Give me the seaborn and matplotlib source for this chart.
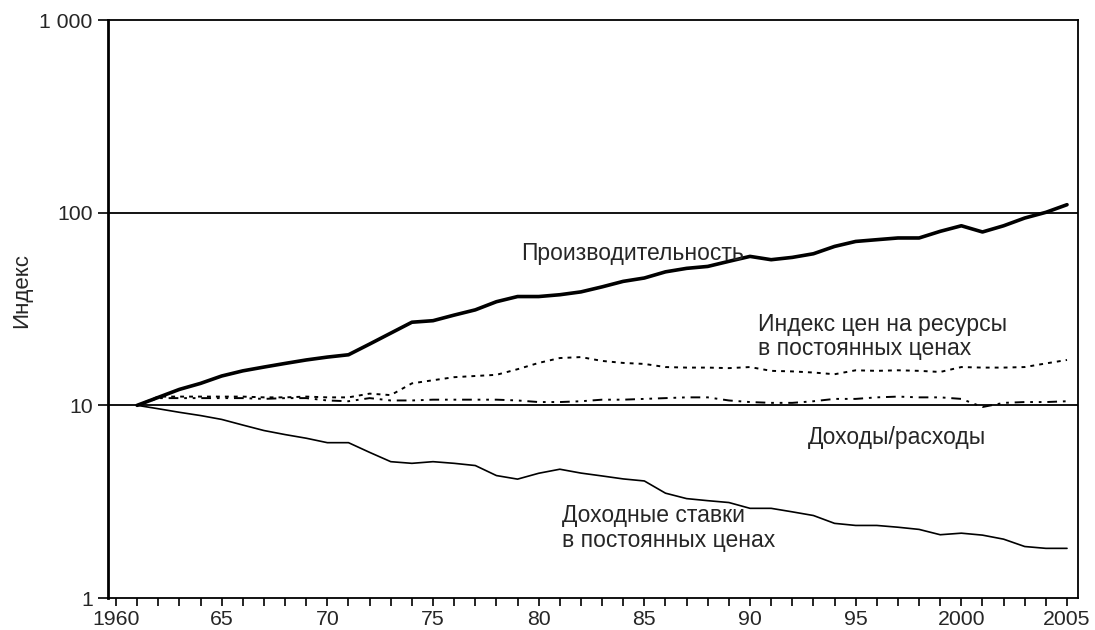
import numpy as np
import pandas as pd
import matplotlib
matplotlib.use("Agg")
import matplotlib.pyplot as plt
import seaborn as sns
from matplotlib.ticker import FixedLocator, NullLocator, NullFormatter

years = list(range(1961, 2006))

productivity = [10, 11.0, 12.1, 13.0, 14.2, 15.1, 15.8, 16.5, 17.2, 17.8,
                18.3, 20.8, 23.7, 27.0, 27.5, 29.4, 31.3, 34.5, 36.7, 36.7,
                37.5, 38.8, 41.2, 44.0, 45.8, 49.3, 51.4, 52.6, 55.9, 59.3,
                57.0, 58.6, 61.2, 66.8, 70.9, 72.4, 73.9, 73.9, 80.0, 85.5,
                79.4, 85.5, 93.8, 100.4, 110.0]

resource_prices = [10, 11.1, 11.1, 11.1, 11.1, 11.1, 11.0, 11.0, 11.1, 11.0,
                   11.0, 11.5, 11.3, 13.0, 13.5, 14.0, 14.2, 14.4, 15.4, 16.6,
                   17.6, 17.8, 17.0, 16.6, 16.4, 15.8, 15.7, 15.7, 15.6, 15.8,
                   15.1, 15.0, 14.8, 14.5, 15.2, 15.1, 15.2, 15.1, 14.9, 15.8,
                   15.7, 15.7, 15.8, 16.5, 17.2]

income_expense = [10, 10.9, 10.9, 10.9, 10.9, 10.9, 10.8, 10.9, 10.9, 10.6,
                  10.5, 10.9, 10.6, 10.6, 10.7, 10.7, 10.7, 10.7, 10.6, 10.4,
                  10.4, 10.5, 10.7, 10.7, 10.8, 10.9, 11.0, 11.0, 10.6, 10.4,
                  10.3, 10.3, 10.5, 10.8, 10.8, 11.0, 11.1, 11.0, 11.0, 10.8,
                  9.8, 10.3, 10.4, 10.4, 10.5]

income_rates = [10, 9.6, 9.2, 8.85, 8.45, 7.9, 7.4, 7.05, 6.75, 6.4,
                6.4, 5.7, 5.1, 5.0, 5.1, 5.0, 4.87, 4.32, 4.14, 4.44,
                4.66, 4.45, 4.3, 4.15, 4.05, 3.5, 3.28, 3.2, 3.13, 2.92,
                2.92, 2.8, 2.68, 2.44, 2.38, 2.38, 2.33, 2.27, 2.13, 2.17,
                2.12, 2.02, 1.85, 1.81, 1.81]

ytick_values = [1, 10, 100, 1000]
ytick_labels = ["1", "10", "100", "1 000"]
xtick_major = [1960, 1965, 1970, 1975, 1980, 1985, 1990, 1995, 2000, 2005]
xtick_labels = ["1960", "65", "70", "75", "80", "85", "90", "95", "2000", "2005"]

sns.set_style("white")
plt.rcParams['font.family'] = ['Liberation Sans', 'DejaVu Sans']

fig = plt.figure(figsize=(10.95, 6.3), dpi=100)
ax = fig.add_axes([108/1095, 1 - 598/630, (1078 - 108)/1095, (598 - 20)/630])

df = pd.DataFrame({"year": years, "prod": productivity, "res": resource_prices,
                   "ratio": income_expense, "rates": income_rates})

sns.lineplot(data=df, x="year", y="prod", ax=ax, color="black", linewidth=2.6)
sns.lineplot(data=df, x="year", y="rates", ax=ax, color="black", linewidth=1.2)
sns.lineplot(data=df, x="year", y="res", ax=ax, color="black", linewidth=1.4)
ax.lines[-1].set_dashes([2.0, 2.6])
sns.lineplot(data=df, x="year", y="ratio", ax=ax, color="black", linewidth=1.4)
ax.lines[-1].set_dashes([5.0, 3.0, 1.4, 3.0, 1.4, 3.0])

ax.set_yscale("log")
ax.set_ylim(1, 1000)
ax.set_xlim(1959.62, 2005.52)

for yv in [10, 100]:
    ax.axhline(yv, color="black", linewidth=1.3, zorder=0)

ax.yaxis.set_major_locator(FixedLocator(ytick_values))
ax.set_yticklabels(ytick_labels)
ax.yaxis.set_minor_locator(NullLocator())
ax.yaxis.set_minor_formatter(NullFormatter())

ax.xaxis.set_major_locator(FixedLocator(xtick_major))
ax.set_xticklabels(xtick_labels)
ax.xaxis.set_minor_locator(FixedLocator(list(range(1960, 2006))))

ax.tick_params(axis="x", which="both", direction="out", length=6, width=1.2,
               bottom=True, labelsize=15.3, pad=2.5, color="black")
ax.tick_params(axis="y", which="major", direction="out", length=7, width=1.2,
               left=True, labelsize=15.3, pad=4, color="black")

for s in ax.spines.values():
    s.set_color("black")
    s.set_linewidth(1.3)
ax.spines["left"].set_linewidth(2.0)

ax.set_xlabel("")
ax.set_ylabel("Индекс", fontsize=16)
ax.yaxis.label.set_va("center")
ax.yaxis.set_label_coords((22 - 108) / 970, (598 - 290) / 578)

fs = 16.5
ax.text(1979.15, 56.5, "Производительность", fontsize=fs, ha="left", va="baseline")
ax.text(1990.38, 24.17, "Индекс цен на ресурсы", fontsize=fs, ha="left", va="baseline")
ax.text(1990.38, 18.3, "в постоянных ценах", fontsize=fs, ha="left", va="baseline")
ax.text(1992.75, 6.27, "Доходы/расходы", fontsize=fs, ha="left", va="baseline")
ax.text(1981.11, 2.49, "Доходные ставки", fontsize=fs, ha="left", va="baseline")
ax.text(1981.11, 1.848, "в постоянных ценах", fontsize=fs, ha="left", va="baseline")

fig.savefig("out.png", dpi=100)
